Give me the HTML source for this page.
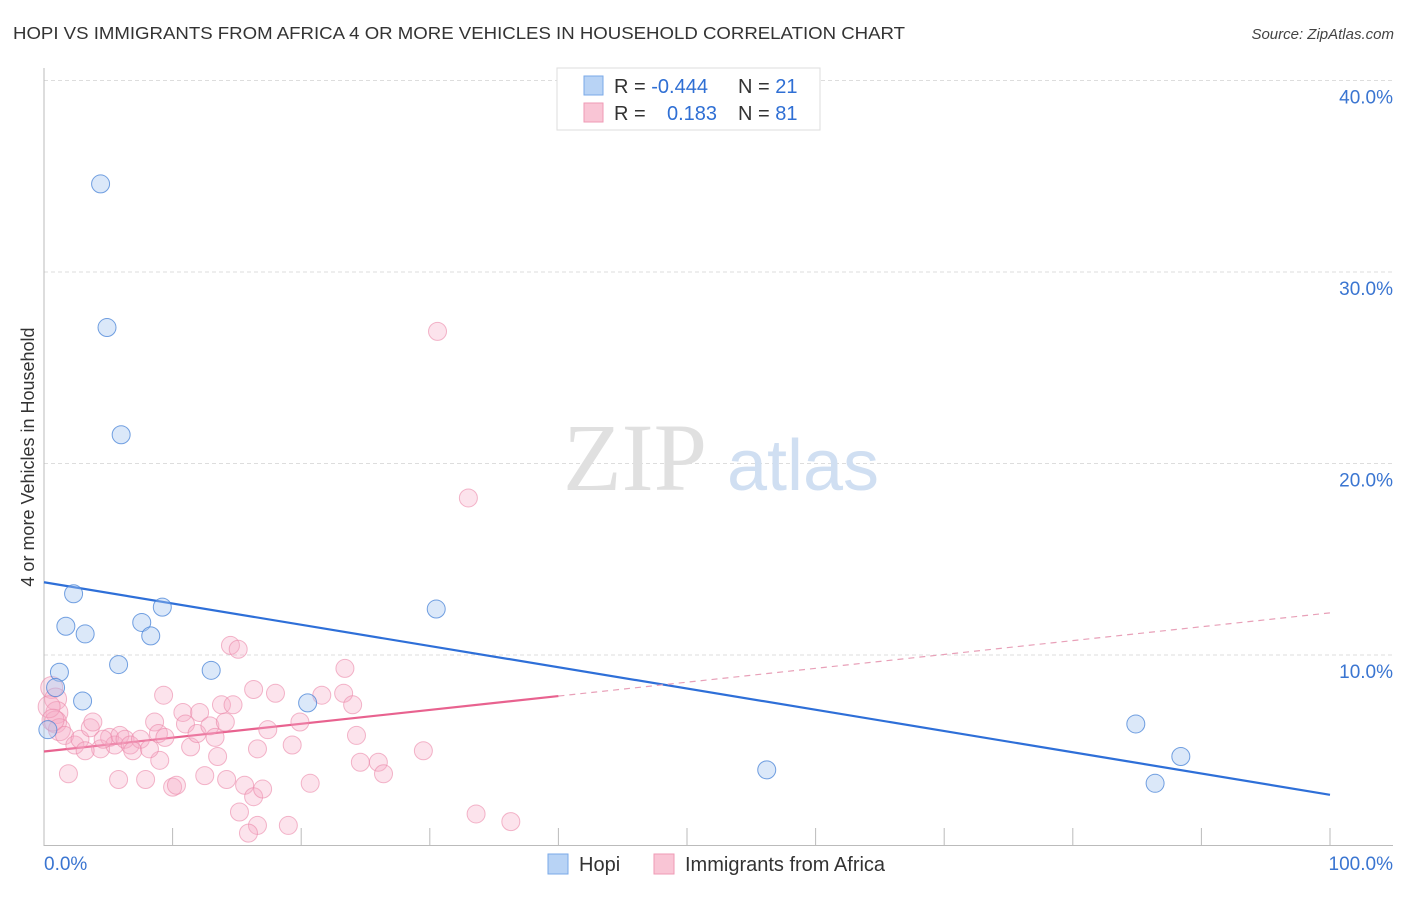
<!DOCTYPE html>
<html><head><meta charset="utf-8"><style>
body{margin:0;background:#fff;}
svg text{font-family:"Liberation Sans",sans-serif;}
svg text.serif{font-family:"Liberation Serif",serif;}
</style></head><body>
<svg id="chart" width="1406" height="892" xmlns="http://www.w3.org/2000/svg">
<text x="13" y="39" font-size="17.5" fill="#333" textLength="892" lengthAdjust="spacingAndGlyphs">HOPI VS IMMIGRANTS FROM AFRICA 4 OR MORE VEHICLES IN HOUSEHOLD CORRELATION CHART</text>
<text x="1394" y="39" font-size="15" font-style="italic" fill="#444" text-anchor="end">Source: ZipAtlas.com</text>
<text transform="translate(34,457) rotate(-90)" font-size="18" fill="#333" text-anchor="middle">4 or more Vehicles in Household</text>
<g id="grid"></g>
<g>
<text class="serif" x="635" y="490" font-size="96" fill="#e0e0e0" text-anchor="middle">ZIP</text>
<text x="803" y="490" font-size="72" fill="#d0dff2" text-anchor="middle">atlas</text>
</g>
<g id="lines"></g>
<g id="points"></g>
<g>
<rect x="557" y="68" width="263" height="62" fill="#fff" stroke="#ddd"/>
<rect x="584" y="76" width="19" height="19" fill="#b8d3f5" stroke="#7aaae8"/>
<rect x="584" y="103" width="19" height="19" fill="#f9c5d5" stroke="#ef9ab5"/>
<text x="614" y="93" font-size="20" fill="#333">R = <tspan fill="#2f6fd4">-0.444</tspan></text>
<text x="738" y="93" font-size="20" fill="#333">N = <tspan fill="#2f6fd4">21</tspan></text>
<text x="614" y="120" font-size="20" fill="#333">R = </text>
<text x="667" y="120" font-size="20" fill="#2f6fd4">0.183</text>
<text x="738" y="120" font-size="20" fill="#333">N = <tspan fill="#2f6fd4">81</tspan></text>
</g>
<g>
<rect x="548" y="854" width="20" height="20" fill="#b8d3f5" stroke="#7aaae8"/>
<text x="579" y="871" font-size="20" fill="#333">Hopi</text>
<rect x="654" y="854" width="20" height="20" fill="#f9c5d5" stroke="#ef9ab5"/>
<text x="685" y="871" font-size="20" fill="#333">Immigrants from Africa</text>
</g>
<text x="44" y="870" font-size="19" fill="#3a75d1">0.0%</text>
<text x="1393" y="870" font-size="19" fill="#3a75d1" text-anchor="end">100.0%</text>
</svg>
<script>
const yTicks=[10,20,30,40];
const yTickLabels=["10.0%","20.0%","30.0%","40.0%"];
const hopiX=[4.4,4.9,6.0,2.3,1.7,3.2,7.6,8.3,9.2,1.2,0.9,3.0,5.8,13.0,20.5,30.5,56.2,84.9,88.4,86.4,0.3];
const hopiY=[34.6,27.1,21.5,13.2,11.5,11.1,11.7,11.0,12.5,9.1,8.3,7.6,9.5,9.2,7.5,12.4,4.0,6.4,4.7,3.3,6.1];
const afrX=[30.6,33.0,0.6,0.9,1.0,0.9,1.2,1.9,1.6,2.4,2.8,3.6,3.8,4.4,5.1,5.5,5.9,6.3,6.7,7.5,8.6,8.9,9.4,9.0,9.3,10.8,11.0,11.4,11.9,12.1,12.9,13.3,13.5,13.8,14.1,14.7,14.5,15.1,16.3,18.0,17.4,16.6,19.9,19.3,21.6,23.3,23.4,24.0,24.3,24.6,26.0,26.4,29.5,5.8,7.9,10.0,10.3,12.5,14.2,15.6,16.3,17.0,15.2,16.6,15.9,19.0,20.7,33.6,36.3,3.2,4.6,6.9,8.2,0.4,0.7];
const afrY=[26.9,18.2,8.3,7.7,7.0,6.5,6.1,3.8,5.8,5.3,5.6,6.2,6.5,5.1,5.7,5.3,5.8,5.6,5.3,5.6,6.5,5.9,5.7,4.5,7.9,7.0,6.4,5.2,5.9,7.0,6.3,5.7,4.7,7.4,6.5,7.4,10.5,10.3,8.2,8.0,6.1,5.1,6.5,5.3,7.9,8.0,9.3,7.4,5.8,4.4,4.4,3.8,5.0,3.5,3.5,3.1,3.2,3.7,3.5,3.2,2.6,3.0,1.8,1.1,0.7,1.1,3.3,1.7,1.3,5.0,5.6,5.0,5.1,7.3,6.6];
const hopiTrend=[13.8,2.7];
const afrTrend=[4.96,12.2];
const afrSolidEnd=40;
const NS="http://www.w3.org/2000/svg";
const xs=v=>44+v*12.86;
const ys=v=>846.5-v*19.15;
function mk(tag,attrs,parent){const e=document.createElementNS(NS,tag);for(const k in attrs)e.setAttribute(k,attrs[k]);parent.appendChild(e);return e;}
const grid=document.getElementById('grid');
yTicks.forEach((t,i)=>{
  const l=mk('line',{x1:44,x2:1393,y1:ys(t),y2:ys(t),stroke:'#ddd','stroke-dasharray':'4,3'},grid);
  
  
  const tx=mk('text',{x:1393,y:ys(t)+23,'font-size':19,fill:'#3a75d1','text-anchor':'end'},grid);
  tx.textContent=yTickLabels[i];
  
  
});
const ax=mk('line',{x1:44,x2:44,y1:68,y2:846,stroke:'#bbb'},grid);


const bx=mk('line',{x1:44,x2:1393,y1:845.5,y2:845.5,stroke:'#bbb'},grid);


for(let k=1;k<=10;k++){
  const t=mk('line',{x1:xs(k*10),x2:xs(k*10),y1:828,y2:845,stroke:'#bbb'},grid);
  
  
}
const pts=document.getElementById('points');
afrX.forEach((x,i)=>{
  const big=(x<1.3);
  const c=mk('circle',{cx:xs(x),cy:ys(afrY[i]),r:big?11:9,fill:'rgba(246,170,196,0.33)',stroke:'rgba(235,135,168,0.6)','stroke-width':1},pts);
  
  
});
hopiX.forEach((x,i)=>{
  const c=mk('circle',{cx:xs(x),cy:ys(hopiY[i]),r:9,fill:'rgba(165,198,240,0.4)',stroke:'rgba(70,130,215,0.75)','stroke-width':1},pts);
  
  
});
const lines=document.getElementById('lines');
const hl=mk('line',{x1:xs(0),y1:ys(hopiTrend[0]),x2:xs(100),y2:ys(hopiTrend[1]),stroke:'#2e6fd8','stroke-width':2.2},lines);


const aAt=v=>afrTrend[0]+(afrTrend[1]-afrTrend[0])*v/100;
const al=mk('line',{x1:xs(0),y1:ys(aAt(0)),x2:xs(afrSolidEnd),y2:ys(aAt(afrSolidEnd)),stroke:'#e8628f','stroke-width':2.2},lines);


const ad=mk('line',{x1:xs(afrSolidEnd),y1:ys(aAt(afrSolidEnd)),x2:xs(100),y2:ys(aAt(100)),stroke:'#e8a0b8','stroke-width':1.2,'stroke-dasharray':'6,5'},lines);


</script>
</body></html>
